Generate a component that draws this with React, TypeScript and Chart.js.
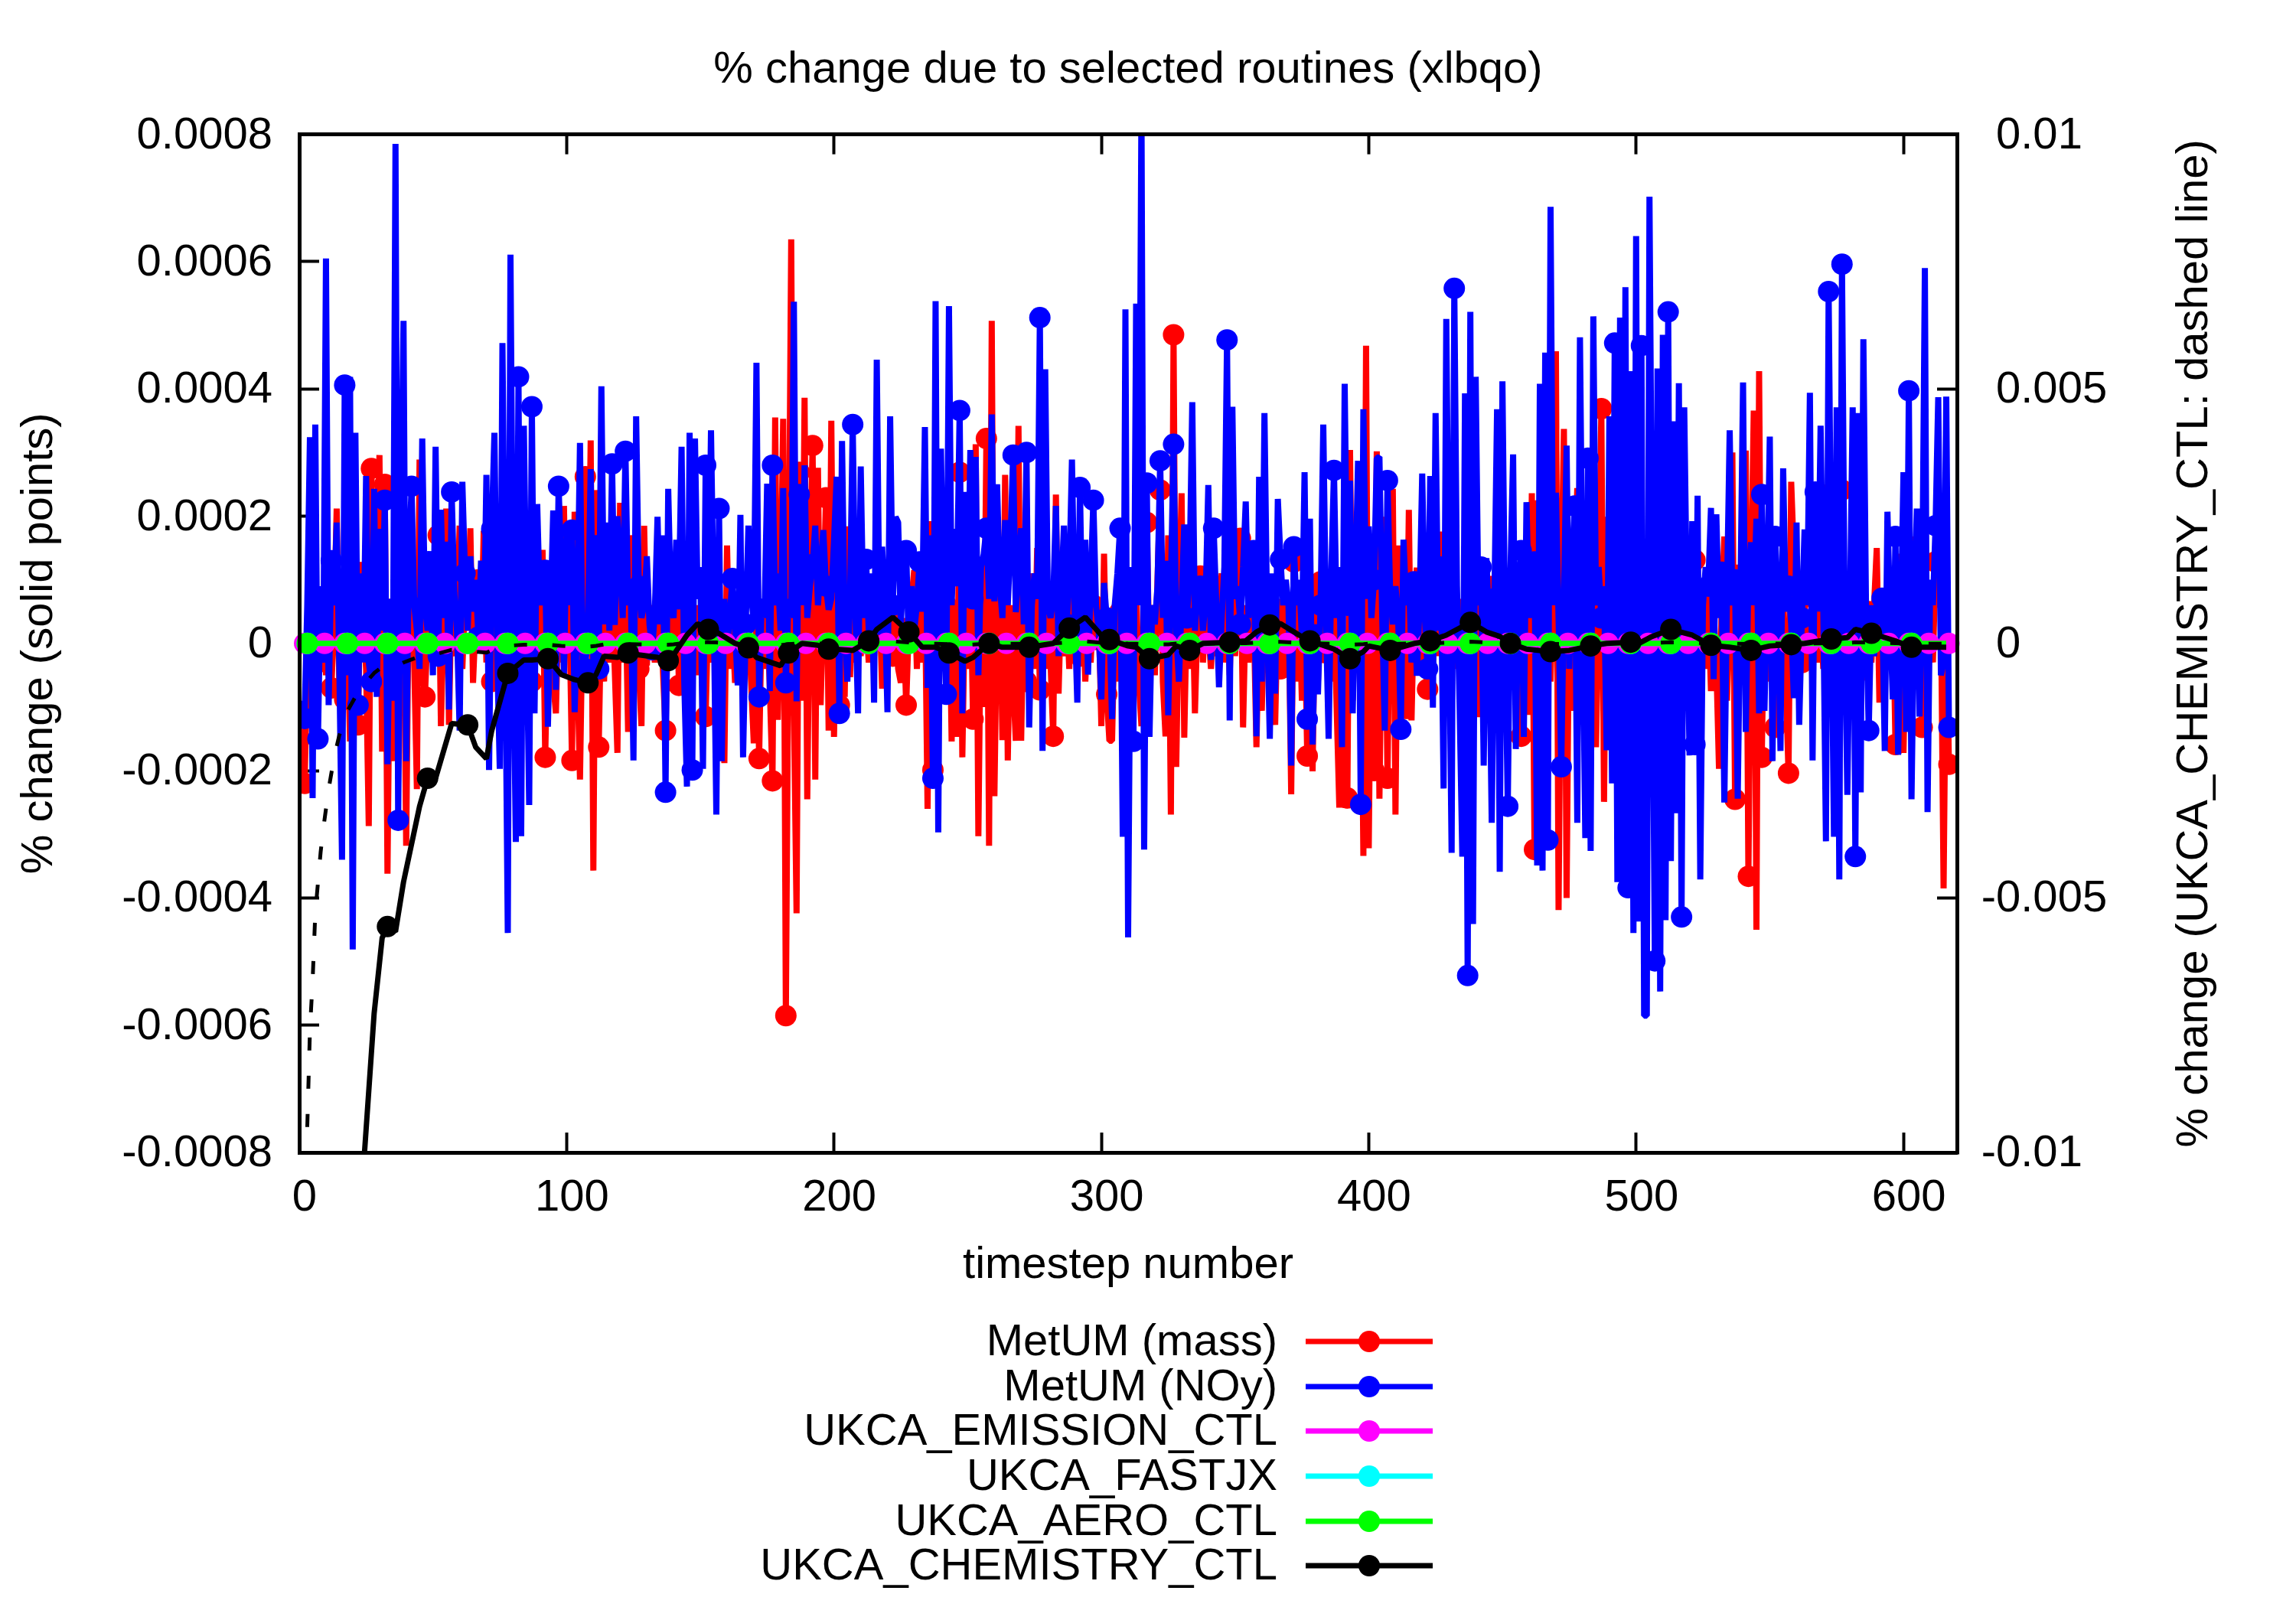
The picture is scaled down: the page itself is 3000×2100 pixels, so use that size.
import React, { useEffect, useRef } from "react";
import { Chart, registerables } from "chart.js";

Chart.register(...registerables);

// Values in units of 1e-6 % change, one list per stretch of timesteps
const MASS_A = [-120,-220,-40,60,-60,50,-30,70,79,-50,-10,-70,30,212,-70,40,-88,30,-154,40,60,-128,128,40,-40,-287,275,-30,120,296,-170,250,-362,70,-185,90,30,-60,100,-318,110,70,-30,-229,289,-40,-84,20,100,60,40,170,-130,50,212,-128,90,-20,40,185,-40,70,20,181,-62,40,100,-10,177,-30,70,-60,100,-20,60,90,-40,50,-10,80,40,-30,60,-20,50,30,-60,60,-30,40,147,-179,40,80,-60,-110,70,-30,216,-20,60,-184];
const MASS_B = [207,-40,-214,60,262,-20,319,-357,241,-163,60,-60,90,-30,70,-40,-172,221,-30,90,-139,170,-20,60,-40,-130,185,-35,60,20,-30,60,20,-40,-137,50,-30,70,119,-66,70,-30,90,-40,20,60,-50,40,-20,-115,60,-30,40,-60,30,-60,-188,154,-40,30,-62,50,-30,60,-20,40,-60,-157,70,-181,60,-40,50,-70,-216,355,-120,60,353,-585,50,635,-100,-424,269,-90,386,-245,120,311,-214,276,-97,60,229,-137,350,-147,60,-97];
const MASS_C = [-30,-84,184,-53,101,-30,60,-20,75,40,-30,60,-20,40,71,-71,40,-30,60,-20,50,-40,-62,40,-97,30,70,115,-40,60,-30,90,-260,192,-199,110,-80,120,-30,60,130,-154,60,-147,269,-179,70,-40,120,-119,313,-303,90,-100,322,-318,507,-240,60,110,-152,265,-184,60,-60,-153,342,-153,90,-60,50,110,-40,150,-73,60,-40,90,-30,-146,234,-79,80,-20,60,-40,70,-30,60,-20,80,-60,40,-30,60,-10,50,-130,141,-80];
const MASS_D = [-153,-153,40,-60,50,-30,90,-80,60,-40,90,-60,-130,60,190,-40,60,-50,100,241,-60,-146,170,-269,485,-194,60,236,-148,60,-40,90,-110,50,106,-30,60,20,-40,60,-20,50,110,-30,60,-50,90,-20,70,165,-132,60,-30,90,40,-163,50,-106,70,-30,60,-20,-128,70,-40,60,-30,70,-237,128,-60,70,-90,50,-177,60,-201,90,-60,97,-30,-20,50,-60,70,-100,-258,60,-258,-243,304,-90,80,-40,90,-334,468,-322,100,-200];
const MASS_E = [302,-244,90,199,-212,110,243,-269,154,-60,90,-119,210,-121,70,119,-40,60,-30,-72,70,-30,90,-20,159,-60,60,-40,60,30,-40,70,-30,60,-20,60,-30,90,-116,60,-30,70,-116,106,-40,-137,60,-40,70,-50,60,-30,90,-60,-146,60,-50,-112,236,-324,225,-60,90,-50,100,-60,120,459,-419,90,337,-400,100,-106,120,244,-80,120,-100,60,-50,60,-163,60,369,-249,199,-90,60,-80,90,-60,100,-40,60,-30,80,-100,-80,120,-100];
const MASS_F = [-60,70,-80,90,-40,60,-100,90,-30,70,-80,50,-60,60,-30,90,-40,60,131,-30,60,75,-40,70,-75,50,-30,-197,60,168,-90,60,300,-245,124,-40,60,303,-366,90,366,-450,428,-179,90,-60,70,-50,-132,60,-30,70,-60,-204,254,138,-40,60,-30,70,-20,50,-60,70,-30,60,-40,50,234,-20,60,-40,70,241,-30,60,-40,90,-50,70,-30,60,-20,50,-30,60,150,-93,50,-40,60,-30,80,-159,141,-60,-172,60,-40,90,168,-30,60,-132,40,-60,70,-30,128,60,60,-385,60,-190];

const NOY_A = [-90,-118,60,324,-243,344,-150,90,-30,605,-97,130,60,190,-40,-340,406,-50,419,-481,331,-97,110,-30,263,-30,-60,243,-84,180,20,225,-190,70,-90,785,-278,190,507,-185,120,247,60,20,-40,322,60,20,145,-50,309,-20,210,40,160,-104,238,80,20,-137,254,110,20,137,50,100,10,130,-10,265,-199,180,331,-10,-197,472,20,-455,611,30,-312,419,-303,342,40,-254,372,-110,219,60,100,115,-131,50,209,-73,247,120,-50,178,60,178];
const NOY_B = [-108,40,315,-30,-40,30,274,-30,170,-40,404,30,190,20,282,29,200,120,40,302,60,80,-184,357,90,40,60,137,30,-10,50,199,30,170,-234,243,60,40,163,70,309,-60,-225,331,-199,322,70,120,-197,280,20,335,60,-269,212,-185,70,-10,40,102,20,-66,202,-179,30,185,80,30,441,-84,70,40,251,-75,280,60,110,20,244,-62,70,40,537,-91,234,60,280,40,90,124,185,60,120,178,90,53,70,160,262,-110];
const NOY_C = [318,30,-60,70,344,50,-110,278,40,132,20,110,-93,446,30,152,60,-108,357,60,199,190,30,120,146,-10,90,20,60,128,50,340,-70,170,-212,538,-297,306,50,-80,530,60,180,90,366,-110,238,60,304,70,293,-50,120,140,181,70,360,66,250,93,40,194,60,160,296,49,120,181,30,300,-132,60,110,70,512,-169,431,60,40,70,216,-20,80,185,30,100,289,50,-93,245,-10,163,-49,90,225,60,20,-88,95,40];
const NOY_D = [30,-119,60,110,181,-304,525,-462,120,-154,534,60,850,-324,252,-147,60,30,90,287,40,130,-113,90,313,20,-60,60,187,40,110,379,20,101,90,20,70,249,-26,181,60,-69,40,120,477,-121,372,70,90,30,120,223,40,120,146,-146,262,-60,362,40,-150,110,-79,227,132,60,100,60,-192,152,60,100,10,269,-119,196,-159,30,-80,60,344,40,-150,110,272,40,120,-163,408,60,256,-110,90,287,-253,368,70,184,40,100];
const NOY_E = [291,293,50,-137,256,80,30,90,40,-135,163,60,110,-30,97,-51,60,267,40,-40,263,-101,362,20,120,-228,510,60,-329,558,90,-100,-335,393,-522,521,-441,419,60,120,-192,134,30,-282,70,368,-359,412,20,-256,110,297,-166,90,146,-147,222,40,90,128,-349,408,-357,457,-309,686,60,237,40,-194,70,311,-40,110,216,-282,481,50,-306,291,-326,514,60,120,40,90,-168,357,-220,472,-375,512,-390,560,-384,428,-455,640,-437,468,-585];
const NOY_F = [-585,702,90,-499,432,-547,485,-435,521,-342,349,-267,409,-430,371,60,-176,192,-159,232,-371,60,120,90,213,-56,203,40,112,-250,80,335,60,100,-244,70,410,-139,100,159,60,196,-110,234,-106,80,325,-185,168,60,-169,275,50,90,30,-86,190,-128,40,179,60,394,-184,238,50,342,60,-311,553,90,-304,371,-371,596,50,-238,60,371,-335,362,-234,478,50,-137,60,-20,66,30,71,-169,207,40,-88,168,-175,30,269,-139,397,-245,60,212,-115,70,590,-265,100,60,185,387,-50,-30,388,-132];

const CHEM_STEPS = [3,4,5,6,7,8,9,11,13,15,18,21,24,28,31,33,36,39,45,48,51,57,63,66,70,72,78,84,87,93,98,103,108,111,114,119,123,127,134,138,140,145,149,153,156,163,168,171,180,183,188,194,198,200,207,213,216,222,228,233,238,243,249,252,258,263,273,282,288,294,300,303,310,313,318,325,328,333,338,348,354,358,363,367,374,378,387,393,398,400,408,417,423,429,438,444,449,453,459,468,475,483,489,498,501,506,513,521,528,535,543,550,558,563,573,579,582,588,597,603,616];
const CHEM_VALUES = [-9500,-7600,-6625,-5300,-4700,-4100,-3640,-2860,-2250,-1800,-1330,-1050,-825,-582,-463,-445,-453,-375,-256,-212,-212,-126,-128,-163,-181,-137,-47,-26,-26,-24,-49,-57,-62,-49,-20,-22,-15,-18,-22,-27,-18,13,31,22,18,0,-7,-22,-35,-15,0,-3,-9,-9,-11,4,22,41,18,-6,-6,-15,-28,-22,0,-6,-6,0,24,41,13,6,-4,-6,-24,-18,-4,-11,0,2,4,18,29,31,13,4,-9,-24,-13,-4,-11,0,4,13,33,18,11,0,-9,-13,-11,-4,0,2,0,11,22,13,-3,-6,-11,-4,-2,0,7,9,22,16,4,-6,-6];

const X_TICKS = [0, 100, 200, 300, 400, 500, 600];
const Y_TICKS = [-0.0008, -0.0006, -0.0004, -0.0002, 0, 0.0002, 0.0004, 0.0006, 0.0008];
const Y2_TICKS = [-0.01, -0.005, 0, 0.005, 0.01];
const LABELS = ["MetUM (mass)", "MetUM (NOy)", "UKCA_EMISSION_CTL", "UKCA_FASTJX", "UKCA_AERO_CTL", "UKCA_CHEMISTRY_CTL"];
const COLORS = ["#ff0000", "#0000ff", "#ff00ff", "#00ffff", "#00ff00", "#000000"];
const TITLE = "% change due to selected routines (xlbqo)";
const X_TITLE = "timestep number";
const Y_TITLE = "% change (solid points)";
const Y2_TITLE = "% change (UKCA_CHEMISTRY_CTL: dashed line)";

const FONT = "'Liberation Sans', Arial, sans-serif";
const FONT_SIZE = 58;
const LINE_WIDTH = 7;
const SPIKE_WIDTH = 8;
const MARKER_RADIUS = 14;
const SCALE = 1e-6;

const stepsFrom = (start: number, step: number, end: number) => {
  const out: number[] = [];
  for (let v = start; v <= end + 0.001; v += step) out.push(v);
  return out;
};

const chunked = (chunks: [number, number[]][]) =>
  chunks.flatMap(([start, values]) => values.map((v, i) => ({ x: start + i, y: v * SCALE })));

const massPoints = chunked([[1, MASS_A], [103, MASS_B], [203, MASS_C], [303, MASS_D], [403, MASS_E], [504, MASS_F]]);
const noyPoints = chunked([[1, NOY_A], [103, NOY_B], [203, NOY_C], [303, NOY_D], [403, NOY_E], [504, NOY_F]]);
const chemPoints = CHEM_STEPS.map((x, i) => ({ x, y: CHEM_VALUES[i] * SCALE }));
const zeroLine = (steps: number[]) => steps.map((x) => ({ x, y: 0 }));

const markerEvery = (start: number, step: number) => (ctx: any) => {
  const x = ctx.raw?.x ?? 0;
  return (x - start) % step === 0 ? MARKER_RADIUS : 0;
};

const series = (i: number, data: any[], radius: any, extra: any = {}) => ({
  label: LABELS[i],
  data,
  borderColor: COLORS[i],
  backgroundColor: COLORS[i],
  borderWidth: LINE_WIDTH,
  borderJoinStyle: "bevel",
  borderCapStyle: "butt",
  tension: 0,
  pointRadius: radius,
  pointHoverRadius: radius,
  pointBackgroundColor: COLORS[i],
  pointBorderWidth: 0,
  order: 10 - i,
  ...extra,
});

const FREE_X_CLIP = { left: 20, right: 20, top: 0, bottom: 0 };

const overlay = {
  id: "gnuplotOverlay",
  afterDraw(chart: any) {
    const { ctx } = chart;
    ctx.save();
    ctx.fillStyle = "#000";
    ctx.font = `${FONT_SIZE}px ${FONT}`;
    // right-hand axis labels: digits start on one column, the minus sign hangs to its left
    const y2 = chart.scales.y2;
    const minusWidth = ctx.measureText("-").width;
    ctx.textAlign = "left";
    ctx.textBaseline = "middle";
    Y2_TICKS.forEach((v) => {
      ctx.fillText(String(v), 2608 - (v < 0 ? minusWidth : 0), y2.getPixelForValue(v) + 2);
    });
    // right-hand axis title, reading bottom to top
    ctx.save();
    ctx.translate(2868, y2.getPixelForValue(0));
    ctx.rotate(-Math.PI / 2);
    ctx.textAlign = "center";
    ctx.fillText(Y2_TITLE, 0, 0);
    ctx.restore();
    // legend
    const rows = [1753, 1812, 1870, 1929, 1988, 2046];
    LABELS.forEach((label, i) => {
      const y = rows[i];
      ctx.fillStyle = "#000";
      ctx.textAlign = "right";
      ctx.fillText(label, 1669, y + 2);
      ctx.strokeStyle = COLORS[i];
      ctx.lineWidth = LINE_WIDTH;
      ctx.beginPath();
      ctx.moveTo(1706, y);
      ctx.lineTo(1872, y);
      ctx.stroke();
      ctx.fillStyle = COLORS[i];
      ctx.beginPath();
      ctx.arc(1789, y, MARKER_RADIUS, 0, Math.PI * 2);
      ctx.fill();
    });
    ctx.restore();
  },
};

const axisBase = (ticks: number[]) => ({
  afterBuildTicks: (scale: any) => {
    scale.ticks = ticks.map((value) => ({ value }));
  },
  grid: {
    drawOnChartArea: false,
    drawTicks: true,
    tickLength: -26,
    tickWidth: 4,
    tickColor: "#000",
  },
  border: { display: true, color: "#000", width: 5, z: 1 },
});

export default function App() {
  const ref = useRef<HTMLCanvasElement>(null);
  useEffect(() => {
    document.body.style.margin = "0";
    const font = { family: FONT, size: FONT_SIZE };
    const chart = new Chart(ref.current as HTMLCanvasElement, {
      type: "line",
      plugins: [overlay],
      data: {
        datasets: [
          series(0, massPoints, markerEvery(2, 5), { borderWidth: SPIKE_WIDTH }),
          series(1, noyPoints, markerEvery(2, 5), { borderWidth: SPIKE_WIDTH }),
          series(2, zeroLine(stepsFrom(2, 7.5, 617)), MARKER_RADIUS, { clip: FREE_X_CLIP }),
          series(3, zeroLine(stepsFrom(3, 15, 603)), MARKER_RADIUS, { clip: FREE_X_CLIP }),
          series(4, zeroLine([...stepsFrom(3, 15, 603), 616]), markerEvery(3, 15), { clip: FREE_X_CLIP }),
          series(5, chemPoints, markerEvery(3, 15)),
          {
            label: "UKCA_CHEMISTRY_CTL (dashed)",
            data: chemPoints,
            yAxisID: "y2",
            borderColor: "#000",
            borderWidth: 5,
            borderDash: [17, 33],
            borderJoinStyle: "bevel",
            tension: 0,
            pointRadius: 0,
            order: 0,
          },
        ] as any,
      },
      options: {
        animation: false,
        responsive: false,
        events: [],
        layout: { padding: 0 },
        plugins: {
          legend: { display: false },
          tooltip: { enabled: false },
          title: {
            display: true,
            text: TITLE,
            fullSize: false,
            color: "#000",
            font: { ...font, weight: "normal", lineHeight: 1.2 },
            padding: { top: 57, bottom: 0 },
          },
        },
        scales: {
          x: {
            type: "linear",
            position: "bottom",
            min: 0,
            max: 620,
            ...axisBase(X_TICKS),
            afterFit: (s: any) => { s.height = 594; },
            ticks: { color: "#000", font, padding: 51, maxRotation: 0, labelOffset: 7 },
            title: {
              display: true,
              text: X_TITLE,
              color: "#000",
              font: { ...font, lineHeight: 1.2 },
              padding: { top: 0, bottom: 411 },
            },
          },
          xTop: {
            type: "linear",
            axis: "x",
            position: "top",
            min: 0,
            max: 620,
            ...axisBase(X_TICKS),
            afterFit: (s: any) => { s.height = 49; },
            ticks: { display: false },
          },
          y: {
            type: "linear",
            position: "left",
            min: -0.0008,
            max: 0.0008,
            ...axisBase(Y_TICKS),
            afterFit: (s: any) => { s.width = 391; },
            ticks: { color: "#000", font, padding: 61, labelOffset: 2, callback: (v: any) => String(v) },
            title: {
              display: true,
              text: Y_TITLE,
              color: "#000",
              font: { ...font, lineHeight: 1.2 },
              padding: { top: 17, bottom: 0 },
            },
          },
          y2: {
            type: "linear",
            position: "right",
            min: -0.01,
            max: 0.01,
            ...axisBase(Y2_TICKS),
            afterFit: (s: any) => { s.width = 443; },
            ticks: { display: false },
          },
        },
      } as any,
    });
    return () => chart.destroy();
  }, []);
  return (
    <div style={{ position: "absolute", left: 0, top: 0, width: 3000, height: 2100, background: "#fff" }}>
      <canvas ref={ref} width={3000} height={2100} style={{ display: "block", width: 3000, height: 2100 }} />
    </div>
  );
}
